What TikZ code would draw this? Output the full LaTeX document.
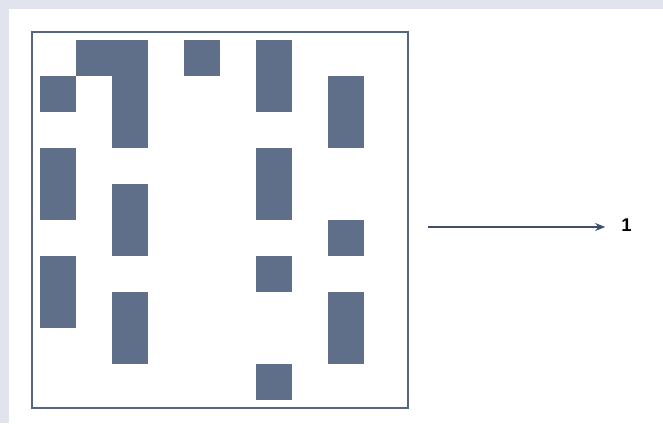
\documentclass[tikz,border=0pt]{standalone}
\usepackage{fontspec}
\setmainfont{Liberation Sans}
\usetikzlibrary{arrows.meta}
\definecolor{pagebg}{HTML}{E1E4EC}
\definecolor{cellblue}{HTML}{5F6F8A}
\definecolor{framecol}{HTML}{56657F}
\definecolor{arrowcol}{HTML}{3E4F6B}
\begin{document}
\begin{tikzpicture}[x=1pt,y=-1pt,
  cell/.style={fill=cellblue},
  gridframe/.style={draw=framecol, line width=1.1pt},
  outarrow/.style={draw=arrowcol, line width=2.3pt, -{Stealth[length=10pt,width=8pt]}}]
\useasboundingbox (0,0) rectangle (663,423);
\fill[pagebg] (0,0) rectangle (663,423);
\fill[white] (9,9) rectangle (663,423);
\draw[gridframe] (32,32) rectangle (408,408);
\foreach \c/\r/\h in {1/0/1, 2/0/3, 0/1/1, 4/0/1, 6/0/2, 8/1/2, 0/3/2, 2/4/2, 6/3/2, 8/5/1, 6/6/1, 0/6/2, 2/7/2, 8/7/2, 6/9/1}
  \fill[cell] (40+36*\c,40+36*\r) rectangle ++(36,36*\h);
\coordinate (start) at (428,227);
\node[font=\fontsize{18.5}{22}\selectfont\bfseries, inner sep=0pt] (one) at (626.5,225.5) {1};
\draw[outarrow, shorten >=16pt] (start) -- (one.west |- start);
\end{tikzpicture}
\end{document}
